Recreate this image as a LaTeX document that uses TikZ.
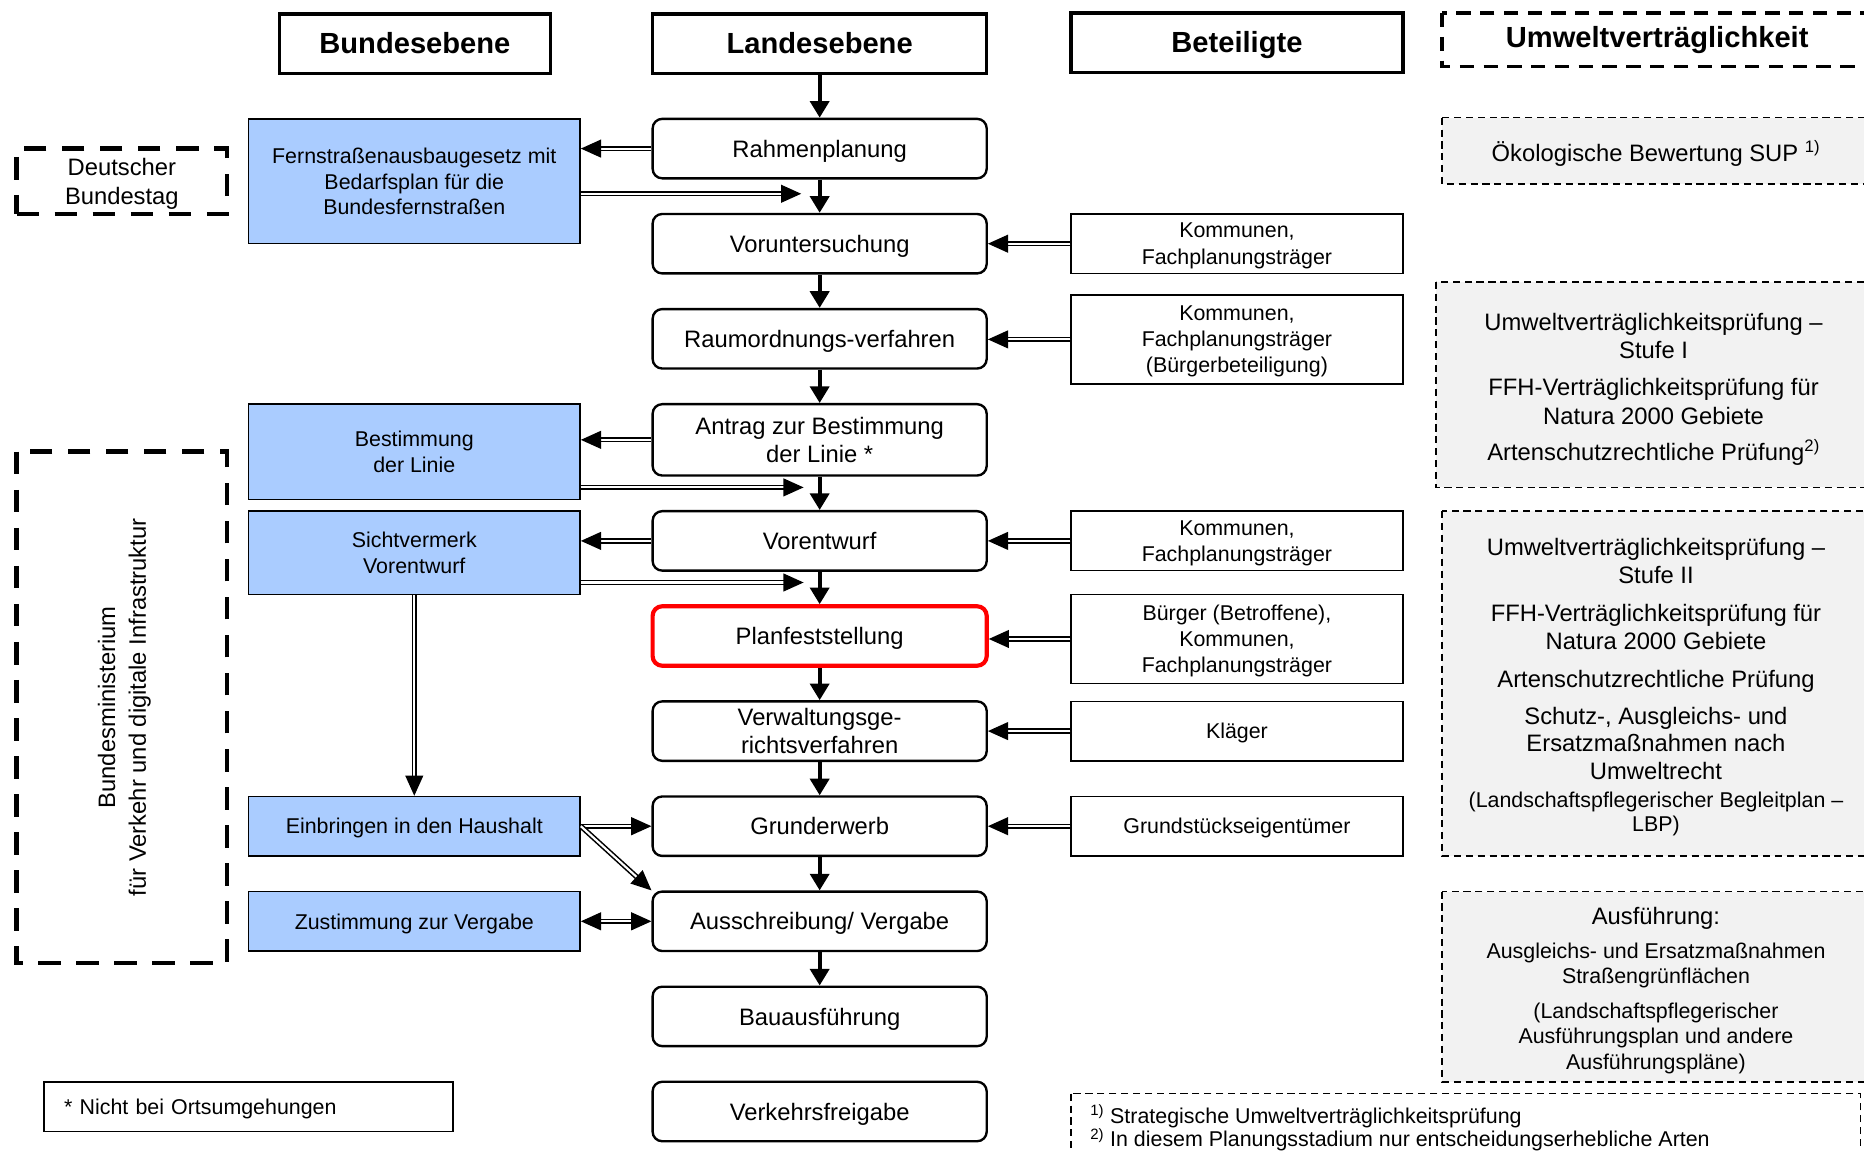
\documentclass[tikz,border=0pt]{standalone}
\usepackage{fontspec}
\setmainfont{Liberation Sans}
\usetikzlibrary{arrows.meta}
\definecolor{bfill}{RGB}{170,204,255}
\definecolor{gfill}{RGB}{242,242,242}
\newcommand\fsz[2]{\fontsize{#1}{#2}\selectfont}
\begin{document}
\begin{tikzpicture}[x=1pt,y=-1pt,
  hdr/.style={draw, line width=3pt, minimum height=50pt, inner sep=0pt, text depth=1pt, font=\bfseries\fsz{24.5}{28}},
  lbox/.style={draw, rounded corners=8pt, line width=2pt, minimum width=281pt, minimum height=50pt, align=center, inner sep=0pt, text depth=-2.5pt, font=\fsz{20}{23.5}},
  bbox/.style={draw, fill=bfill, line width=1.2pt, minimum width=279pt, align=center, inner sep=0pt, text depth=-2.5pt, font=\fsz{18}{21.5}},
  pbox/.style={draw, line width=1.3pt, minimum width=279pt, align=center, inner sep=0pt, text depth=-2.2pt, font=\fsz{18}{22}},
  dbox/.style={draw, line width=3.8pt, dash pattern=on 19pt off 13pt},
  hdash/.style={draw, line width=3pt, dash pattern=on 12pt off 8pt},
  gbox/.style={draw, fill=gfill, line width=1.3pt, dash pattern=on 6pt off 4pt},
  fbox/.style={draw, line width=1.3pt, dash pattern=on 6pt off 4pt},
  down/.style={line width=3.2pt, -{Triangle[length=14pt,width=16pt]}},
  dbl/.style={double, double distance=1.8pt, line width=1.3pt, -{Triangle[length=17pt,width=15pt]}},
  rtext/.style={align=center, inner sep=0pt, font=\fsz{20}{24}}
]
\useasboundingbox (0,0) rectangle (1568,968);
\fill[white] (0,0) rectangle (1568,968);

% headers
\node[hdr, minimum width=228pt] (hb) at (349,37) {Bundesebene};
\node[hdr, minimum width=281pt] (hl) at (689.5,37) {Landesebene};
\node[hdr, minimum width=279pt] (hp) at (1040.5,36) {Beteiligte};
\draw[hdash] (1213,11) rectangle (1640,56);
\node[inner sep=0pt, font=\bfseries\fsz{24.5}{28}] (hu) at (1394,33.5) {Umweltverträglichkeit};

% Landesebene column
\node[lbox] (rp) at (689.5,125) {Rahmenplanung};
\node[lbox] (vu) at (689.5,205) {Voruntersuchung};
\node[lbox] (ro) at (689.5,285) {Raumordnungs-verfahren};
\node[lbox, minimum height=60pt] (an) at (689.5,370) {Antrag zur Bestimmung\\der Linie *};
\node[lbox] (ve) at (689.5,455) {Vorentwurf};
\node[lbox, draw=red, line width=3.5pt] (pf) at (689.5,535) {Planfeststellung};
\node[lbox] (vg) at (689.5,615) {Verwaltungsge-\\richtsverfahren};
\node[lbox] (ge) at (689.5,695) {Grunderwerb};
\node[lbox] (av) at (689.5,775) {Ausschreibung/ Vergabe};
\node[lbox] (ba) at (689.5,855) {Bauausführung};
\node[lbox] (vf) at (689.5,935) {Verkehrsfreigabe};

% Bundesebene (blue)
\node[bbox, minimum height=105pt] (fs) at (348.5,152.5) {Fernstraßenausbaugesetz mit\\Bedarfsplan für die\\Bundesfernstraßen};
\node[bbox, minimum height=80pt] (bl) at (348.5,380) {Bestimmung\\der Linie};
\node[bbox, minimum height=70pt] (sv) at (348.5,465) {Sichtvermerk\\Vorentwurf};
\node[bbox, minimum height=50pt] (eh) at (348.5,695) {Einbringen in den Haushalt};
\node[bbox, minimum height=50pt] (zv) at (348.5,775) {Zustimmung zur Vergabe};

% dashed outer boxes
\node[dbox, minimum width=177pt, minimum height=55pt, align=center, inner sep=0pt, text depth=-2pt, font=\fsz{20}{24}] (db) at (102.5,152.5) {Deutscher\\Bundestag};
\node[dbox, rotate=90, minimum width=430pt, minimum height=177pt, align=center, inner sep=0pt, text depth=0pt, font=\fsz{20}{26}] (bm) at (102.5,595) {Bundesministerium\\für Verkehr und digitale Infrastruktur};

% Beteiligte
\node[pbox, minimum height=50pt] (k1) at (1040.5,205) {Kommunen,\\Fachplanungsträger};
\node[pbox, minimum height=75pt] (k2) at (1040.5,285.5) {Kommunen,\\Fachplanungsträger\\(Bürgerbeteiligung)};
\node[pbox, minimum height=50pt] (k3) at (1040.5,455) {Kommunen,\\Fachplanungsträger};
\node[pbox, minimum height=75pt] (k4) at (1040.5,537.5) {Bürger (Betroffene),\\Kommunen,\\Fachplanungsträger};
\node[pbox, minimum height=50pt] (kl) at (1040.5,615) {Kläger};
\node[pbox, minimum height=50pt] (gr) at (1040.5,695) {Grundstückseigentümer};

% Umweltverträglichkeit column
\draw[gbox] (1213,99) rectangle (1640,155);
\node[rtext] (oek) at (1393,129) {Ökologische Bewertung SUP \textsuperscript{1)}};
\draw[gbox] (1208,237) rectangle (1640,410);
\node[rtext] (uv1) at (1391,327.5) {Umweltverträglichkeitsprüfung –\\Stufe I\\[7pt]FFH-Verträglichkeitsprüfung für\\Natura 2000 Gebiete\\[7pt]Artenschutzrechtliche Prüfung\textsuperscript{2)}};
\draw[gbox] (1213,430) rectangle (1640,720);
\node[rtext, font=\fsz{20}{23.3}] (uv2) at (1393,578) {Umweltverträglichkeitsprüfung –\\Stufe II\\[8.7pt]FFH-Verträglichkeitsprüfung für\\Natura 2000 Gebiete\\[8.7pt]Artenschutzrechtliche Prüfung\\[7.7pt]Schutz-, Ausgleichs- und\\Ersatzmaßnahmen nach\\Umweltrecht\\{\fsz{18}{20}(Landschaftspflegerischer Begleitplan –}\\[-3.3pt]{\fsz{18}{20}LBP)}};
\draw[gbox] (1213,750) rectangle (1640,910);
\node[rtext, font=\fsz{18}{21}] (af) at (1393,833) {{\fsz{20}{24}Ausführung:}\\[8pt]Ausgleichs- und Ersatzmaßnahmen\\Straßengrünflächen\\[8pt](Landschaftspflegerischer\\Ausführungsplan und andere\\[1pt]Ausführungspläne)};

% footnotes
\draw[fbox] (901,920) rectangle (1565,1000);
\node[anchor=west, align=left, inner sep=0pt, font=\fsz{18}{20}] (fn) at (917,949) {\textsuperscript{1)} Strategische Umweltverträglichkeitsprüfung\\\textsuperscript{2)} In diesem Planungsstadium nur entscheidungserhebliche Arten};

\node[draw, line width=1.2pt, minimum width=344pt, minimum height=42pt, inner xsep=17pt, inner ysep=0pt, text width=310pt, align=left, text depth=-2pt, font=\fsz{18}{21}] (nb) at (209,931) {* Nicht bei Ortsumgehungen};

% vertical arrows
\draw[down] (hl.south) -- (rp.north);
\draw[down] (rp.south) -- (vu.north);
\draw[down] (vu.south) -- (ro.north);
\draw[down] (ro.south) -- (an.north);
\draw[down] (an.south) -- (ve.north);
\draw[down] (ve.south) -- (pf.north);
\draw[down] (pf.south) -- (vg.north);
\draw[down] (vg.south) -- (ge.north);
\draw[down] (ge.south) -- (av.north);
\draw[down] (av.south) -- (ba.north);

% double arrows Landes <-> Bund
\coordinate (c1) at (674,163);
\coordinate (c2) at (676,410);
\coordinate (c3) at (676,490);
\draw[dbl] (rp.west) -- (rp.west -| fs.east);
\draw[dbl] (fs.east |- c1) -- (c1);
\draw[dbl] (an.west) -- (an.west -| bl.east);
\draw[dbl] (bl.east |- c2) -- (c2);
\draw[dbl] (ve.west) -- (ve.west -| sv.east);
\draw[dbl] (sv.east |- c3) -- (c3);
\draw[dbl] (sv.south) -- (eh.north);
\draw[dbl] (eh.east) -- (ge.west);
\draw[dbl] (eh.east) -- (av.north west);
\draw[dbl, {Triangle[length=17pt,width=15pt]}-{Triangle[length=17pt,width=15pt]}] (zv.east) -- (av.west);

% Beteiligte arrows
\draw[dbl] (k1.west) -- (vu.east);
\draw[dbl] (k2.west) -- (k2.west -| ro.east);
\draw[dbl] (k3.west) -- (ve.east);
\draw[dbl] (k4.west) -- (k4.west -| pf.east);
\draw[dbl] (kl.west) -- (vg.east);
\draw[dbl] (gr.west) -- (ge.east);
\end{tikzpicture}
\end{document}
